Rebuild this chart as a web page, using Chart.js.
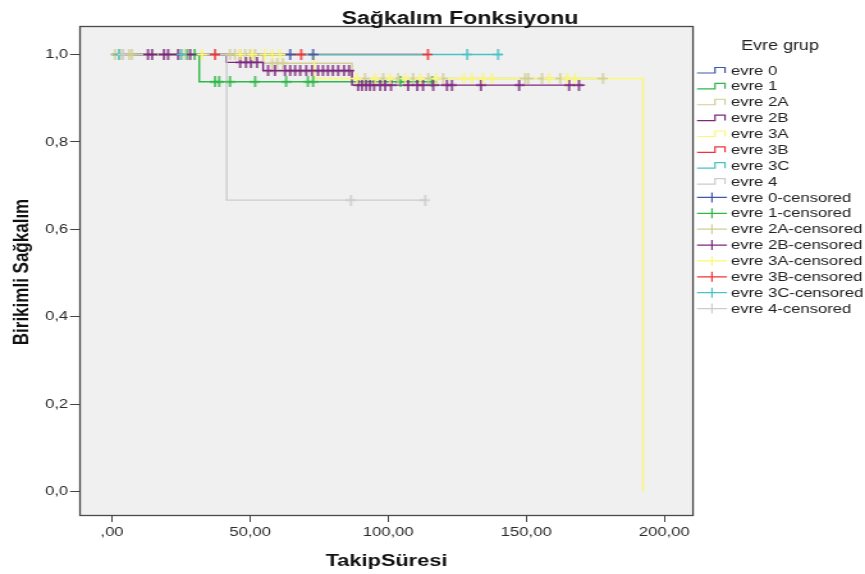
<!DOCTYPE html>
<html>
<head>
<meta charset="utf-8">
<script src="https://cdn.jsdelivr.net/npm/chart.js@4/dist/chart.umd.min.js"></script>
<style>
  html, body { margin: 0; padding: 0; background: #ffffff; }
  #c { display: block; width: 865px; height: 574px; }
</style>
</head>
<body>
<canvas id="c" width="676" height="574" style="width:865px;height:574px"></canvas>
<script>
// Kaplan–Meier cumulative survival by stage group (Evre grup)

const groupNames  = ['evre 0', 'evre 1', 'evre 2A', 'evre 2B', 'evre 3A', 'evre 3B', 'evre 3C', 'evre 4'];
const groupColors = ['#3E58AC', '#2EB848', '#D3CE97', '#7C287D', '#FBF873', '#EF3338', '#48C2C5', '#CCCCCC'];

// For each group: times of the drops, survival after each drop, last follow-up time, censored times
const evre0Steps = [];               const evre0Surv = [];
const evre0End = 72.8;
const evre0Censor = [64.5, 72.8];

const evre1Steps = [31.6];           const evre1Surv = [0.9375];
const evre1End = 115.9;
const evre1Censor = [27.2, 29.9, 37.3, 38.8, 42.7, 51.8, 63.0, 70.9, 72.8, 104.5, 115.9];

const evre2ASteps = [54.7, 86.9];    const evre2ASurv = [0.980, 0.945];
const evre2AEnd = 177.8;
const evre2ACensor = [1.1, 2.5, 3.6, 6.2, 7.2, 25.0, 26.4, 42.7, 44.5, 46.4, 48.2, 50.0, 51.8,
                      58.0, 59.8, 61.9, 91.6, 98.2, 103.6, 109.0, 114.5, 119.9,
                      149.6, 150.7, 155.7, 162.3, 177.8];

const evre2BSteps = [41.3, 54.7, 86.9]; const evre2BSurv = [0.982, 0.963, 0.930];
const evre2BEnd = 171.3;
const evre2BCensor = [13.0, 14.5, 18.8, 20.3, 23.9, 28.3,
                      46.4, 48.5, 50.3, 52.5,
                      56.5, 59.0, 62.6, 64.5, 66.3, 68.1, 70.3, 72.4, 74.6, 76.4, 78.2, 80.0, 81.9, 84.0, 85.8,
                      89.1, 90.5, 92.0, 93.4, 94.9, 97.1, 98.9, 101.0, 107.2, 110.5, 112.6, 116.3,
                      121.3, 123.1, 133.6, 147.4, 165.5, 169.1];

const evre3ASteps = [73.2, 192.3];   const evre3ASurv = [0.945, 0.0];
const evre3AEnd = 192.3;
const evre3ACensor = [32.6, 46.4, 50.7, 55.4, 58.0, 60.8,
                      88.7, 95.3, 100.7, 106.1, 111.6, 117.3, 127.4, 130.3, 134.3, 137.6,
                      158.3, 164.8, 167.7];

const evre3BSteps = [];              const evre3BSurv = [];
const evre3BEnd = 114.4;
const evre3BCensor = [37.3, 68.5, 114.4];

const evre3CSteps = [];              const evre3CSurv = [];
const evre3CEnd = 141.6;
const evre3CCensor = [2.5, 25.0, 128.6, 139.8];

const evre4Steps = [41.5];           const evre4Surv = [0.667];
const evre4End = 113.4;
const evre4Censor = [4.0, 86.5, 113.4];

// Axis ticks
const xTickValues = [0, 50, 100, 150, 200];
const xTickLabels = [',00', '50,00', '100,00', '150,00', '200,00'];
const yTickValues = [0, 0.2, 0.4, 0.6, 0.8, 1.0];
const yTickLabels = ['0,0', '0,2', '0,4', '0,6', '0,8', '1,0'];

const titleText  = 'Sağkalım Fonksiyonu';
const xTitleText = 'TakipSüresi';
const yTitleText = 'Birikimli Sağkalım';
const legendTitle = 'Evre grup';

// ---------------------------------------------------------------------------

const groups = [
  { steps: evre0Steps,  surv: evre0Surv,  end: evre0End,  censor: evre0Censor },
  { steps: evre1Steps,  surv: evre1Surv,  end: evre1End,  censor: evre1Censor },
  { steps: evre2ASteps, surv: evre2ASurv, end: evre2AEnd, censor: evre2ACensor },
  { steps: evre2BSteps, surv: evre2BSurv, end: evre2BEnd, censor: evre2BCensor },
  { steps: evre3ASteps, surv: evre3ASurv, end: evre3AEnd, censor: evre3ACensor },
  { steps: evre3BSteps, surv: evre3BSurv, end: evre3BEnd, censor: evre3BCensor },
  { steps: evre3CSteps, surv: evre3CSurv, end: evre3CEnd, censor: evre3CCensor },
  { steps: evre4Steps,  surv: evre4Surv,  end: evre4End,  censor: evre4Censor }
].map((g, i) => Object.assign(g, { name: groupNames[i], color: groupColors[i] }));

function levelAt(g, t) {
  let s = 1;
  for (let k = 0; k < g.steps.length; k++) if (g.steps[k] <= t) s = g.surv[k];
  return s;
}

function curvePoints(g) {
  const pts = [{ x: 0, y: 1 }];
  g.steps.forEach((t, k) => pts.push({ x: t, y: g.surv[k] }));
  pts.push({ x: g.end, y: levelAt(g, g.end) });
  return pts;
}

// "+" marker for censored cases
function crossImage(color) {
  const c = document.createElement('canvas');
  c.width = 8; c.height = 11;
  const g = c.getContext('2d');
  g.fillStyle = color;
  g.fillRect(3.25, 0, 1.5, 11);
  g.fillRect(0, 4.75, 8, 1.5);
  return c;
}

// first dataset is painted last, so later groups sit above earlier ones
const censorSets = groups.map(g => ({
  label: g.name + '-censored',
  data: g.censor.map(t => ({ x: t, y: levelAt(g, t) })),
  showLine: false,
  pointStyle: crossImage(g.color),
  pointRadius: 4,
  pointHoverRadius: 4
})).reverse();

const curveSets = groups.map(g => ({
  label: g.name,
  data: curvePoints(g),
  showLine: true,
  stepped: true,
  borderColor: g.color,
  borderWidth: 1.4,
  pointRadius: 0,
  fill: false
})).reverse();

const W = 676, H = 574, SX = 865 / 676;   // canvas is widened to 865px on screen
const plotLeft = 80 / SX, plotRight = 693 / SX, plotTop = 26.5, plotBottom = 515.5;

const framePlugin = {
  id: 'frame',
  beforeDraw(chart) {
    const { ctx, chartArea: a } = chart;
    ctx.save();
    ctx.fillStyle = '#ffffff';
    ctx.fillRect(0, 0, chart.width, chart.height);
    ctx.fillStyle = '#f0f0f0';
    ctx.fillRect(a.left, a.top, a.right - a.left, a.bottom - a.top);
    ctx.restore();
  },
  afterDatasetsDraw(chart) {
    const { ctx, chartArea: a } = chart;
    ctx.save();
    ctx.strokeStyle = '#4a4a4a';
    ctx.lineWidth = 1.3;
    ctx.strokeRect(a.left, a.top, a.right - a.left, a.bottom - a.top);
    ctx.restore();
  },
  afterDraw(chart) {
    const { ctx, chartArea: a } = chart;
    ctx.save();
    ctx.fillStyle = '#111111';
    // chart title
    ctx.font = 'bold 18px "Liberation Sans", Arial, sans-serif';
    ctx.textAlign = 'center';
    ctx.textBaseline = 'alphabetic';
    ctx.fillText(titleText, 460 / SX, 24);
    // x axis title
    ctx.font = 'bold 17px "Liberation Sans", Arial, sans-serif';
    ctx.textBaseline = 'middle';
    ctx.fillText(xTitleText, (a.left + a.right) / 2, 561);
    // y axis title
    ctx.save();
    ctx.translate(22.5 / SX, 272);
    ctx.rotate(-Math.PI / 2);
    ctx.fillText(yTitleText, 0, 0);
    ctx.restore();

    // legend
    const x0 = 697 / SX, xs = 715 / SX, x1 = 725 / SX, xc = 712 / SX, xe = 727 / SX, xt = 731 / SX;
    ctx.font = '14px "Liberation Sans", Arial, sans-serif';
    ctx.fillStyle = '#222222';
    ctx.textAlign = 'center';
    ctx.fillText(legendTitle, 780 / SX, 46);
    ctx.font = '13px "Liberation Sans", Arial, sans-serif';
    ctx.textAlign = 'left';
    const rows = [];
    groups.forEach(g => rows.push({ text: g.name, color: g.color, kind: 'step' }));
    groups.forEach(g => rows.push({ text: g.name + '-censored', color: g.color, kind: 'cens' }));
    rows.forEach((r, i) => {
      const cy = 71 + i * 15.87;
      ctx.strokeStyle = r.color;
      ctx.lineWidth = 1.2;
      ctx.beginPath();
      if (r.kind === 'step') {
        ctx.moveTo(x0, cy + 2);
        ctx.lineTo(xs, cy + 2);
        ctx.lineTo(xs, cy - 3.5);
        ctx.lineTo(x1, cy - 3.5);
        ctx.lineTo(x1, cy + 2);
      } else {
        ctx.moveTo(x0, cy - 0.5);
        ctx.lineTo(xe, cy - 0.5);
        ctx.moveTo(xc, cy - 5.5);
        ctx.lineTo(xc, cy + 4.5);
      }
      ctx.stroke();
      ctx.fillStyle = '#222222';
      ctx.fillText(r.text, xt, cy);
    });
    ctx.restore();
  }
};

const tickFont = { family: '"Liberation Sans", Arial, sans-serif', size: 13 };

new Chart(document.getElementById('c').getContext('2d'), {
  type: 'scatter',
  data: { datasets: censorSets.concat(curveSets) },
  options: {
    responsive: false,
    devicePixelRatio: 1,
    animation: false,
    events: [],
    layout: { padding: { left: 0, top: plotTop, right: W - plotRight, bottom: 0 } },
    plugins: {
      legend: { display: false },
      tooltip: { enabled: false },
      title: { display: false }
    },
    scales: {
      x: {
        type: 'linear',
        min: -11.6,
        max: 210.4,
        afterFit: s => { s.height = H - plotBottom; },
        afterBuildTicks: s => { s.ticks = xTickValues.map(v => ({ value: v })); },
        ticks: {
          callback: (v, i) => xTickLabels[i],
          font: tickFont,
          color: '#2b2b2b',
          padding: 3,
          maxRotation: 0,
          autoSkip: false
        },
        grid: { display: true, drawOnChartArea: false, drawTicks: true, tickLength: 6.5, tickColor: '#444444', tickWidth: 1 },
        border: { display: false }
      },
      y: {
        type: 'linear',
        min: -0.0542,
        max: 1.064,
        afterFit: s => { s.width = plotLeft; },
        afterBuildTicks: s => { s.ticks = yTickValues.map(v => ({ value: v })); },
        ticks: {
          callback: (v, i) => yTickLabels[i],
          font: tickFont,
          color: '#2b2b2b',
          padding: 1.5,
          autoSkip: false
        },
        grid: { display: true, drawOnChartArea: false, drawTicks: true, tickLength: 7.8, tickColor: '#444444', tickWidth: 1 },
        border: { display: false }
      }
    }
  },
  plugins: [framePlugin]
});
</script>
</body>
</html>
